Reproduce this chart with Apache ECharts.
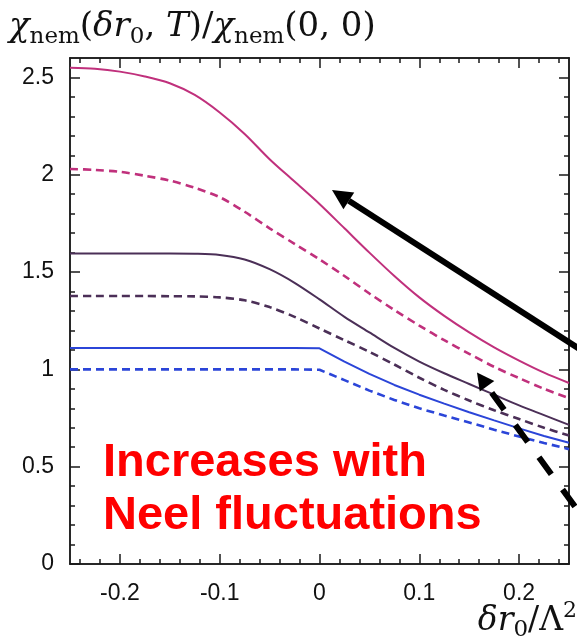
<!DOCTYPE html>
<html>
<head>
<meta charset="utf-8">
<script src="https://cdn.jsdelivr.net/npm/echarts@6/dist/echarts.min.js"></script>
<style>
  html, body { margin: 0; padding: 0; background: #fff; }
  #main { width: 577px; height: 641px; }
</style>
</head>
<body>
<div id="main"></div>
<script>
// x = delta r0 / Lambda^2
const xValues = [-0.25, -0.225, -0.2, -0.175, -0.15, -0.125, -0.1, -0.075, -0.05, -0.025, 0,
  0.025, 0.05, 0.075, 0.1, 0.125, 0.15, 0.175, 0.2, 0.225, 0.25];

const magentaSolid = [2.55, 2.545, 2.53, 2.505, 2.47, 2.41, 2.32, 2.21, 2.08, 1.965, 1.85,
  1.725, 1.60, 1.48, 1.37, 1.275, 1.19, 1.113, 1.045, 0.983, 0.93];
const magentaDashed = [2.03, 2.025, 2.015, 1.995, 1.97, 1.933, 1.885, 1.81, 1.725, 1.645, 1.565,
  1.48, 1.39, 1.305, 1.225, 1.15, 1.08, 1.013, 0.955, 0.90, 0.852];
const purpleSolid = [1.595, 1.595, 1.595, 1.595, 1.595, 1.594, 1.588, 1.565, 1.515, 1.445, 1.36,
  1.27, 1.19, 1.11, 1.04, 0.98, 0.925, 0.87, 0.815, 0.765, 0.715];
const purpleDashed = [1.377, 1.377, 1.377, 1.377, 1.376, 1.375, 1.37, 1.355, 1.32, 1.27, 1.21,
  1.15, 1.09, 1.025, 0.957, 0.895, 0.84, 0.79, 0.745, 0.70, 0.66];
const blueSolid = [1.11, 1.11, 1.11, 1.11, 1.11, 1.11, 1.11, 1.11, 1.11, 1.11, 1.108,
  1.04, 0.977, 0.92, 0.87, 0.824, 0.78, 0.738, 0.697, 0.658, 0.623];
const blueDashed = [1.0, 1.0, 1.0, 1.0, 1.0, 1.0, 1.0, 1.0, 1.0, 1.0, 0.998,
  0.945, 0.891, 0.843, 0.80, 0.763, 0.727, 0.69, 0.655, 0.622, 0.59];

const xMajorTicks = [-0.2, -0.1, 0, 0.1, 0.2];
const xMinorTicks = [-0.24, -0.22, -0.2, -0.18, -0.16, -0.14, -0.12, -0.1, -0.08, -0.06, -0.04, -0.02, 0,
  0.02, 0.04, 0.06, 0.08, 0.1, 0.12, 0.14, 0.16, 0.18, 0.2, 0.22, 0.24];
const yMajorTicks = [0, 0.5, 1, 1.5, 2, 2.5];
const yMinorTicks = [0, 0.1, 0.2, 0.3, 0.4, 0.5, 0.6, 0.7, 0.8, 0.9, 1, 1.1, 1.2, 1.3, 1.4, 1.5,
  1.6, 1.7, 1.8, 1.9, 2, 2.1, 2.2, 2.3, 2.4, 2.5];

const MAGENTA = '#c0307c';
const PURPLE = '#4b2f57';
const BLUE = '#2b45d8';
const AXIS = '#1a1a1a';

const chart = echarts.init(document.getElementById('main'));

function axis(range, pos, ticks, len, labelOpts) {
  return {
    type: 'value',
    position: pos,
    min: range[0],
    max: range[1],
    axisLine: { show: true, onZero: false, lineStyle: { color: AXIS, width: 1.5 } },
    axisTick: { show: true, inside: true, length: len, customValues: ticks,
      lineStyle: { color: AXIS, width: 1.5 } },
    axisLabel: labelOpts || { show: false },
    splitLine: { show: false }
  };
}

const labelStyle = { color: '#111', fontSize: 23, fontFamily: 'Liberation Sans' };

function line(values, color, dashed, smooth) {
  return {
    type: 'line',
    data: xValues.map((x, i) => [x, values[i]]),
    showSymbol: false,
    smooth: smooth,
    xAxisIndex: 0,
    yAxisIndex: 0,
    lineStyle: { color: color, width: dashed ? 2.6 : 2, type: dashed ? [8, 5] : 'solid' },
    z: 3
  };
}

// annotation arrows (pixel positions on the page)
function arrow(tail, tip, width, headLen, headHalf, dash, gapFromTip) {
  const dx = tip[0] - tail[0], dy = tip[1] - tail[1];
  const len = Math.hypot(dx, dy);
  const ux = dx / len, uy = dy / len;
  const bx = tip[0] - ux * headLen, by = tip[1] - uy * headLen;
  const start = gapFromTip || headLen;
  return [
    { type: 'line', z: 100,
      shape: { x1: tip[0] - ux * start, y1: tip[1] - uy * start, x2: tail[0], y2: tail[1] },
      style: { stroke: '#000', lineWidth: width, lineDash: dash || null } },
    { type: 'polygon', z: 100,
      shape: { points: [tip, [bx - uy * headHalf, by + ux * headHalf], [bx + uy * headHalf, by - ux * headHalf]] },
      style: { fill: '#000' } }
  ];
}

const FONT = 'DejaVu Serif';
const serifMain = { fontFamily: FONT, fontSize: 34, fontWeight: 'normal', lineHeight: 43, color: '#111' };
const serifIt = Object.assign({}, serifMain, { fontStyle: 'italic' });
const serifSub = { fontFamily: FONT, fontSize: 23, fontWeight: 'normal', lineHeight: 24, verticalAlign: 'bottom', color: '#111' };
const serifSup = { fontFamily: FONT, fontSize: 22, fontWeight: 'normal', lineHeight: 23, verticalAlign: 'top', color: '#111' };
const axisMain = Object.assign({}, serifMain, { fontSize: 33, lineHeight: 42 });
const axisIt = Object.assign({}, axisMain, { fontStyle: 'italic' });

chart.setOption({
  animation: false,
  backgroundColor: '#fff',
  title: [{
    left: 4, top: 1,
    text: '{i|χ}{s|nem}{r|(}{i|δr}{s|0}{r|, }{i|T}{r|)/}{i|χ}{s|nem}{r|(0, 0)}',
    textStyle: { fontWeight: 'normal', rich: { r: serifMain, i: serifIt, s: serifSub } }
  }, {
    right: -5, bottom: -6,
    text: '{i|δr}{s|0}{r|/Λ}{p|2}',
    textStyle: { fontWeight: 'normal', rich: { r: axisMain, i: axisIt, s: serifSub, p: serifSup } }
  }],
  grid: { left: 70, right: 8, top: 58, bottom: 77, containLabel: false },
  xAxis: [
    axis([-0.25, 0.25], 'bottom', xMajorTicks, 10,
      Object.assign({ customValues: xMajorTicks, margin: 18 }, labelStyle)),
    axis([-0.25, 0.25], 'bottom', xMinorTicks, 5),
    axis([-0.25, 0.25], 'top', xMajorTicks, 10),
    axis([-0.25, 0.25], 'top', xMinorTicks, 5)
  ],
  yAxis: [
    axis([0, 2.6], 'left', yMajorTicks, 10,
      Object.assign({ customValues: yMajorTicks, margin: 16 }, labelStyle)),
    axis([0, 2.6], 'left', yMinorTicks, 5),
    axis([0, 2.6], 'right', yMajorTicks, 10),
    axis([0, 2.6], 'right', yMinorTicks, 5)
  ],
  series: [
    line(magentaSolid, MAGENTA, false, 0.3),
    line(magentaDashed, MAGENTA, true, 0.3),
    line(purpleSolid, PURPLE, false, 0.3),
    line(purpleDashed, PURPLE, true, 0.3),
    line(blueSolid, BLUE, false, false),
    line(blueDashed, BLUE, true, false)
  ],
  graphic: [
    { type: 'text', left: 103, top: 437, z: 100,
      style: { text: 'Increases with\nNeel fluctuations', fill: '#ff0000',
        font: 'bold 47px "Liberation Sans"', lineHeight: 53 } }
  ].concat(
    arrow([592, 357], [332, 190], 6, 20, 10),
    arrow([584, 519], [477, 372.5], 6, 17, 9, [21, 19], 25)
  )
});
</script>
</body>
</html>
